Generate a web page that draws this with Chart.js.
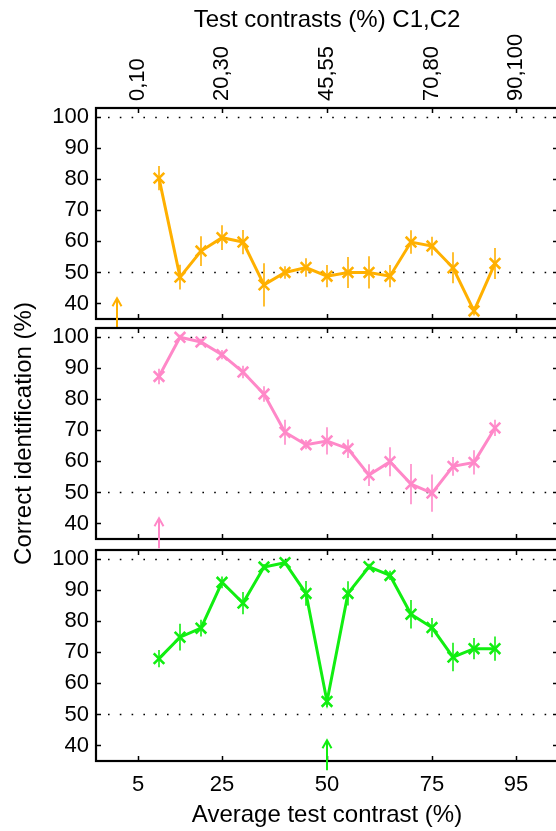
<!DOCTYPE html>
<html>
<head>
<meta charset="utf-8">
<script src="https://cdn.jsdelivr.net/npm/chart.js@4.4.1/dist/chart.umd.min.js"></script>
<style>
  html, body { margin: 0; padding: 0; background: #fff; width: 556px; height: 831px; overflow: hidden; }
  canvas { position: absolute; left: 0; top: 0; }
</style>
</head>
<body>
<canvas id="panelTop" width="558" height="831"></canvas>
<canvas id="panelMid" width="558" height="831"></canvas>
<canvas id="panelBot" width="558" height="831"></canvas>
<script>
// --- data ---
const contrast = [10, 15, 20, 25, 30, 35, 40, 45, 50, 55, 60, 65, 70, 75, 80, 85, 90];

const orangeVals = [80.4, 48.5, 56.9, 61.2, 59.8, 46.0, 50.0, 51.6, 48.8, 50.0, 50.0, 48.8, 59.8, 58.5, 51.5, 37.6, 52.9];
const orangeErr  = [3.9, 4.0, 4.8, 4.0, 3.9, 7.0, 2.0, 3.0, 3.6, 5.0, 5.2, 3.6, 3.8, 3.0, 5.0, 1.5, 5.0];

const pinkVals = [87.4, 100, 98.5, 94.4, 88.8, 81.7, 69.4, 65.4, 66.6, 64.1, 55.6, 59.9, 52.7, 49.8, 58.4, 59.7, 70.8];
const pinkErr  = [2.5, 0.8, 1.0, 1.5, 2.0, 2.5, 4.0, 1.5, 4.4, 3.0, 3.5, 4.7, 6.5, 6.0, 3.0, 3.9, 2.6];

const greenVals = [68.0, 74.9, 77.8, 92.6, 85.9, 97.5, 98.9, 89.0, 54.2, 89.0, 97.6, 94.8, 82.3, 78.0, 68.5, 71.2, 71.2];
const greenErr  = [2.8, 4.3, 2.7, 1.9, 3.6, 1.0, 1.0, 4.0, 1.9, 3.9, 1.0, 1.5, 4.6, 3.1, 4.6, 3.4, 3.9];

// arrows marking the test contrast in each panel
const arrowX = [0, 10, 50];
const arrowFrom = 32;
const arrowTo = 41.7;

const xTickValues = [5, 25, 50, 75, 95];
const topTickLabels = ['0,10', '20,30', '45,55', '70,80', '90,100'];
const yTickValues = [40, 50, 60, 70, 80, 90, 100];
const refLines = [50, 100];

const FONT = "'Liberation Sans', Arial, Helvetica, sans-serif";

// frame, inward ticks, dotted reference lines, error bars and arrow
const panelPlugin = {
  id: 'panel',
  beforeDatasetsDraw(chart, args, opts) {
    const { ctx, chartArea: a, scales: { x, y } } = chart;
    ctx.save();
    ctx.strokeStyle = '#000';
    ctx.lineWidth = 1.6;
    ctx.setLineDash([1.6, 10.2]);
    refLines.forEach(v => {
      const py = Math.round(y.getPixelForValue(v)) + 0.5;
      ctx.beginPath();
      ctx.moveTo(a.left + 12, py);
      ctx.lineTo(a.right, py);
      ctx.stroke();
    });
    ctx.setLineDash([]);

    ctx.strokeStyle = opts.color;
    ctx.lineWidth = 1.6;
    contrast.forEach((c, i) => {
      const px = x.getPixelForValue(c);
      ctx.beginPath();
      ctx.moveTo(px, y.getPixelForValue(opts.vals[i] - opts.errs[i]));
      ctx.lineTo(px, y.getPixelForValue(opts.vals[i] + opts.errs[i]));
      ctx.stroke();
    });
    ctx.restore();
  },
  afterDraw(chart, args, opts) {
    const { ctx, chartArea: a, scales: { x, y } } = chart;
    ctx.save();
    ctx.strokeStyle = '#000';
    ctx.lineWidth = 1.5;
    xTickValues.forEach(v => {
      const px = Math.round(x.getPixelForValue(v)) + 0.5;
      ctx.beginPath();
      ctx.moveTo(px, a.top); ctx.lineTo(px, a.top + 5);
      ctx.moveTo(px, a.bottom); ctx.lineTo(px, a.bottom - 5);
      ctx.stroke();
    });
    yTickValues.forEach(v => {
      const py = Math.round(y.getPixelForValue(v)) + 0.5;
      ctx.beginPath();
      ctx.moveTo(a.left, py); ctx.lineTo(a.left + 5, py);
      ctx.moveTo(a.right, py); ctx.lineTo(a.right - 5, py);
      ctx.stroke();
    });
    ctx.lineWidth = 2.2;
    ctx.strokeRect(a.left, a.top, a.right - a.left, a.bottom - a.top);

    // arrow
    const ax = x.getPixelForValue(opts.arrow);
    const y1 = y.getPixelForValue(arrowFrom);
    const y2 = y.getPixelForValue(arrowTo);
    ctx.strokeStyle = opts.color;
    ctx.lineWidth = 2;
    ctx.beginPath();
    ctx.moveTo(ax, y1); ctx.lineTo(ax, y2);
    ctx.moveTo(ax - 4.5, y2 + 8); ctx.lineTo(ax, y2); ctx.lineTo(ax + 4.5, y2 + 8);
    ctx.stroke();
    ctx.restore();
  }
};

function makePanel(id, vals, errs, color, arrow, pad, xScale, yTitle) {
  return new Chart(document.getElementById(id), {
    type: 'line',
    data: {
      datasets: [{
        data: contrast.map((c, i) => ({ x: c, y: vals[i] })),
        borderColor: color,
        backgroundColor: color,
        borderWidth: 3,
        pointStyle: 'crossRot',
        pointRadius: 7.5,
        pointBorderWidth: 2.6,
        pointBorderColor: color,
        tension: 0,
        clip: false
      }]
    },
    options: {
      responsive: false,
      animation: false,
      layout: { padding: pad, autoPadding: false },
      plugins: {
        legend: { display: false },
        tooltip: { enabled: false },
        panel: { color, vals, errs, arrow }
      },
      scales: {
        x: Object.assign({
          type: 'linear',
          min: -5,
          max: 105,
          grid: { display: false, drawTicks: false },
          border: { display: false },
          afterBuildTicks: s => { s.ticks = xTickValues.map(v => ({ value: v })); }
        }, xScale),
        y: {
          type: 'linear',
          position: 'left',
          min: 35,
          max: 103,
          grid: { display: false, drawTicks: false },
          border: { display: false },
          afterBuildTicks: s => { s.ticks = yTickValues.map(v => ({ value: v })); },
          afterFit: s => { s.width = 96; },
          ticks: { color: '#000', padding: 7, font: { family: FONT, size: 22 } },
          title: {
            display: !!yTitle,
            text: yTitle || '',
            color: '#000',
            padding: { top: 10, bottom: 0 },
            font: { family: FONT, size: 24 }
          }
        }
      }
    },
    plugins: [panelPlugin]
  });
}

makePanel('panelTop', orangeVals, orangeErr, '#ffb000', arrowX[0],
  { top: 0, bottom: 512, left: 0, right: 0 },
  {
    position: 'top',
    afterFit: s => { s.height = 108; },
    ticks: {
      color: '#000', padding: 7, autoSkip: false,
      minRotation: 90, maxRotation: 90, labelOffset: 26,
      font: { family: FONT, size: 22 },
      callback: (v, i) => topTickLabels[i]
    },
    title: {
      display: true, text: 'Test contrasts (%) C1,C2', color: '#000',
      padding: { top: 6, bottom: 0 }, font: { family: FONT, size: 24 }
    }
  }, null);

makePanel('panelMid', pinkVals, pinkErr, '#ff88c8', arrowX[1],
  { top: 328, bottom: 292, left: 0, right: 0 },
  { display: false }, 'Correct identification (%)');

makePanel('panelBot', greenVals, greenErr, '#11ee11', arrowX[2],
  { top: 550, bottom: 0, left: 0, right: 0 },
  {
    position: 'bottom',
    afterFit: s => { s.height = 70; },
    ticks: {
      color: '#000', padding: 11, autoSkip: false, maxRotation: 0,
      font: { family: FONT, size: 22 },
      callback: v => String(v)
    },
    title: {
      display: true, text: 'Average test contrast (%)', color: '#000',
      padding: { top: 0, bottom: 1 }, font: { family: FONT, size: 24 }
    }
  }, null);
</script>
</body>
</html>
